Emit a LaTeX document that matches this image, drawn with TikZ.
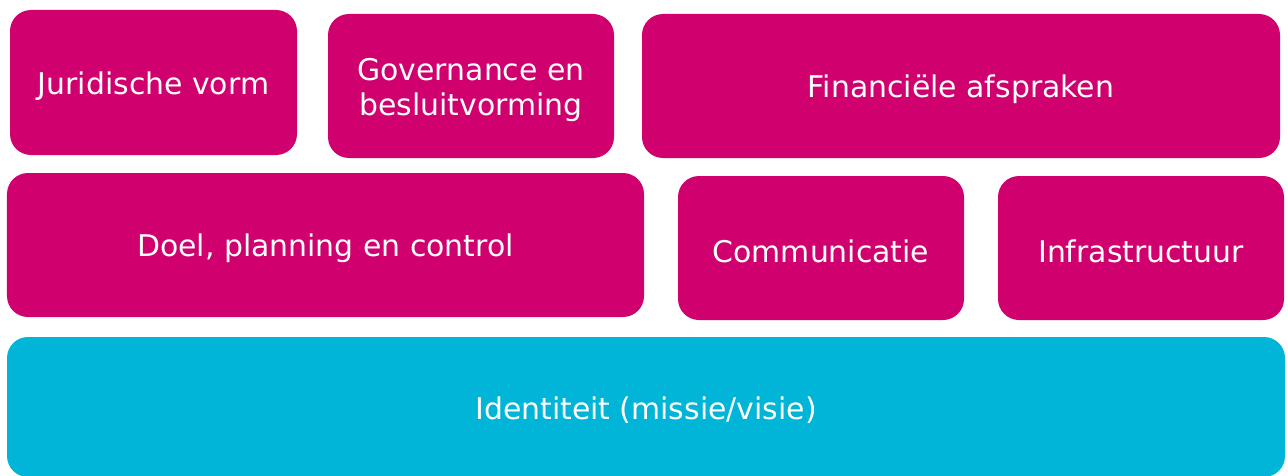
\documentclass[tikz,border=0pt]{standalone}
\usepackage{fontspec}
\setmainfont{DejaVu Sans}
\usepackage{tikz}

\definecolor{roze}{HTML}{D0006F}
\definecolor{blauw}{HTML}{00B5D7}

\begin{document}
\begin{tikzpicture}[
  blok/.style={fill=roze, text=white, rounded corners=0.42cm, align=center,
    minimum height=2.88cm, inner sep=0pt, text height=0.58cm, font=\fontsize{17}{20}\selectfont},
  basis/.style={blok, fill=blauw}]
\useasboundingbox (0cm,0cm) rectangle (25.76cm,-9.5cm);
% bovenste rij
\node[blok, minimum width=5.74cm, minimum height=2.9cm] (juridisch) at (3.07cm,-1.65cm) {Juridische vorm};
\node[blok, minimum width=5.72cm, text height=1.3cm] (governance) at (9.42cm,-1.72cm) {Governance en\\besluitvorming};
\node[blok, minimum width=12.76cm] (financieel) at (19.22cm,-1.72cm) {Financiële afspraken};
% middelste rij
\node[blok, minimum width=12.74cm] (doel) at (6.51cm,-4.9cm) {Doel, planning en control};
\node[blok, minimum width=5.72cm] (communicatie) at (16.42cm,-4.96cm) {Communicatie};
\node[blok, minimum width=5.72cm] (infra) at (22.82cm,-4.96cm) {Infrastructuur};
% fundament
\node[basis, minimum width=25.56cm, minimum height=2.8cm] (identiteit) at (12.92cm,-8.14cm) {Identiteit (missie/visie)};
\end{tikzpicture}
\end{document}
